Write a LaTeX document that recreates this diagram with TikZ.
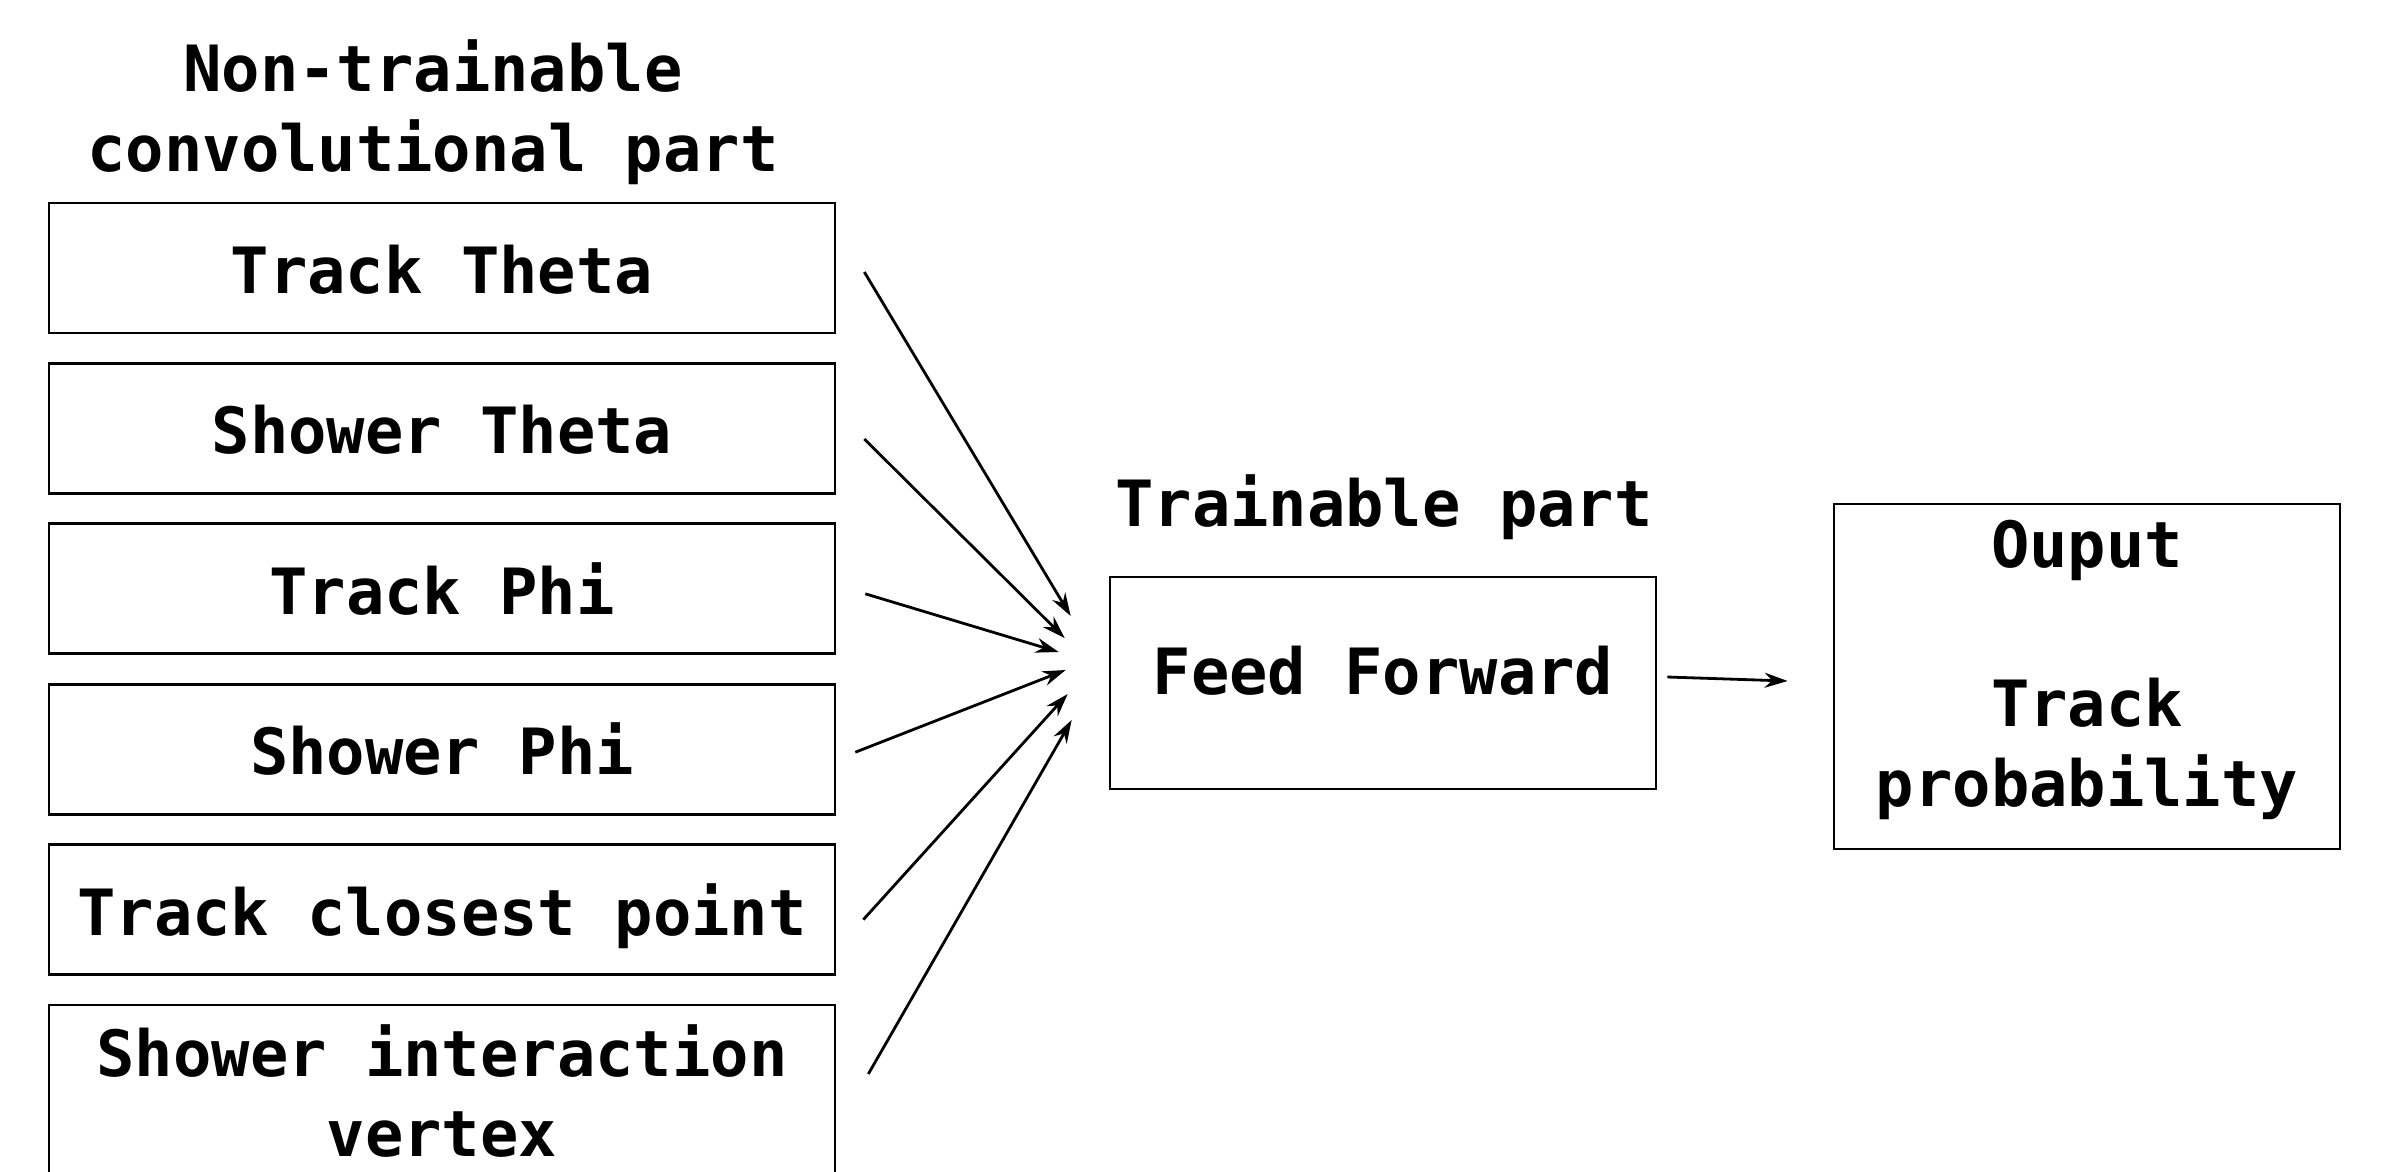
\documentclass[tikz,border=0pt]{standalone}
\usepackage{fontspec}
\setmonofont{DejaVu Sans Mono}
\usetikzlibrary{arrows.meta}

\tikzset{
	every node/.style={font=\ttfamily\bfseries\fontsize{36.3pt}{45.4pt}\selectfont},
	inbox/.style={draw, line width=0.056cm, minimum width=15.72cm, text height=1.02cm, text depth=0pt, inner sep=0pt},
	title/.style={anchor=south, align=center, inner sep=0pt, text depth=0pt},
	arr/.style={line width=0.056cm, -{Stealth[length=0.46cm, width=0.3cm]}}
}

\begin{document}
\begin{tikzpicture}[x=0.02cm, y=-0.02cm]
	\useasboundingbox (0,0) rectangle (2381,1171);

	% inputs of the convolutional part
	\node[title] (convtitle) at (433,172) {Non-trainable\\convolutional part};
	\foreach \i/\y/\txt in {1/268/Track Theta, 2/428.4/Shower Theta, 3/588.8/Track Phi, 4/749.2/Shower Phi, 5/909.6/Track closest point}
		\node[inbox, minimum height=2.6cm] (in\i) at (442,\y) {\txt};
	\node[inbox, minimum height=3.44cm, align=center, text height=, text depth=] (in6) at (442,1091) {Shower interaction\\vertex};

	% trainable part and output
	\node[title] (traintitle) at (1384,527) {Trainable part};
	\node[draw, line width=0.056cm, minimum width=10.92cm, minimum height=4.24cm, inner sep=0pt,
		text height=1.02cm, text depth=0.58cm] (ff) at (1383,683) {Feed Forward};
	\node[draw, line width=0.056cm, minimum width=10.12cm, minimum height=6.9cm, inner sep=0pt,
		align=center, text depth=0.54cm] (out) at (2087,676.5) {Ouput\\[45.4pt]Track\\probability};

	% connections
	\foreach \i/\sx/\sy/\ex/\ey in {1/28/4/-38/-67, 2/28/10.6/-44/-45, 3/29/5/-50/-31, 4/19/3/-43/-13, 5/27/10/-41/11, 6/32/-17/-37/37}
		\draw[arr] ([shift={(\sx,\sy)}]in\i.east) -- ([shift={(\ex,\ey)}]ff.west);
	\draw[arr] ([shift={(10,-6)}]ff.east) -- ([shift={(-45,4.5)}]out.west);
\end{tikzpicture}
\end{document}
